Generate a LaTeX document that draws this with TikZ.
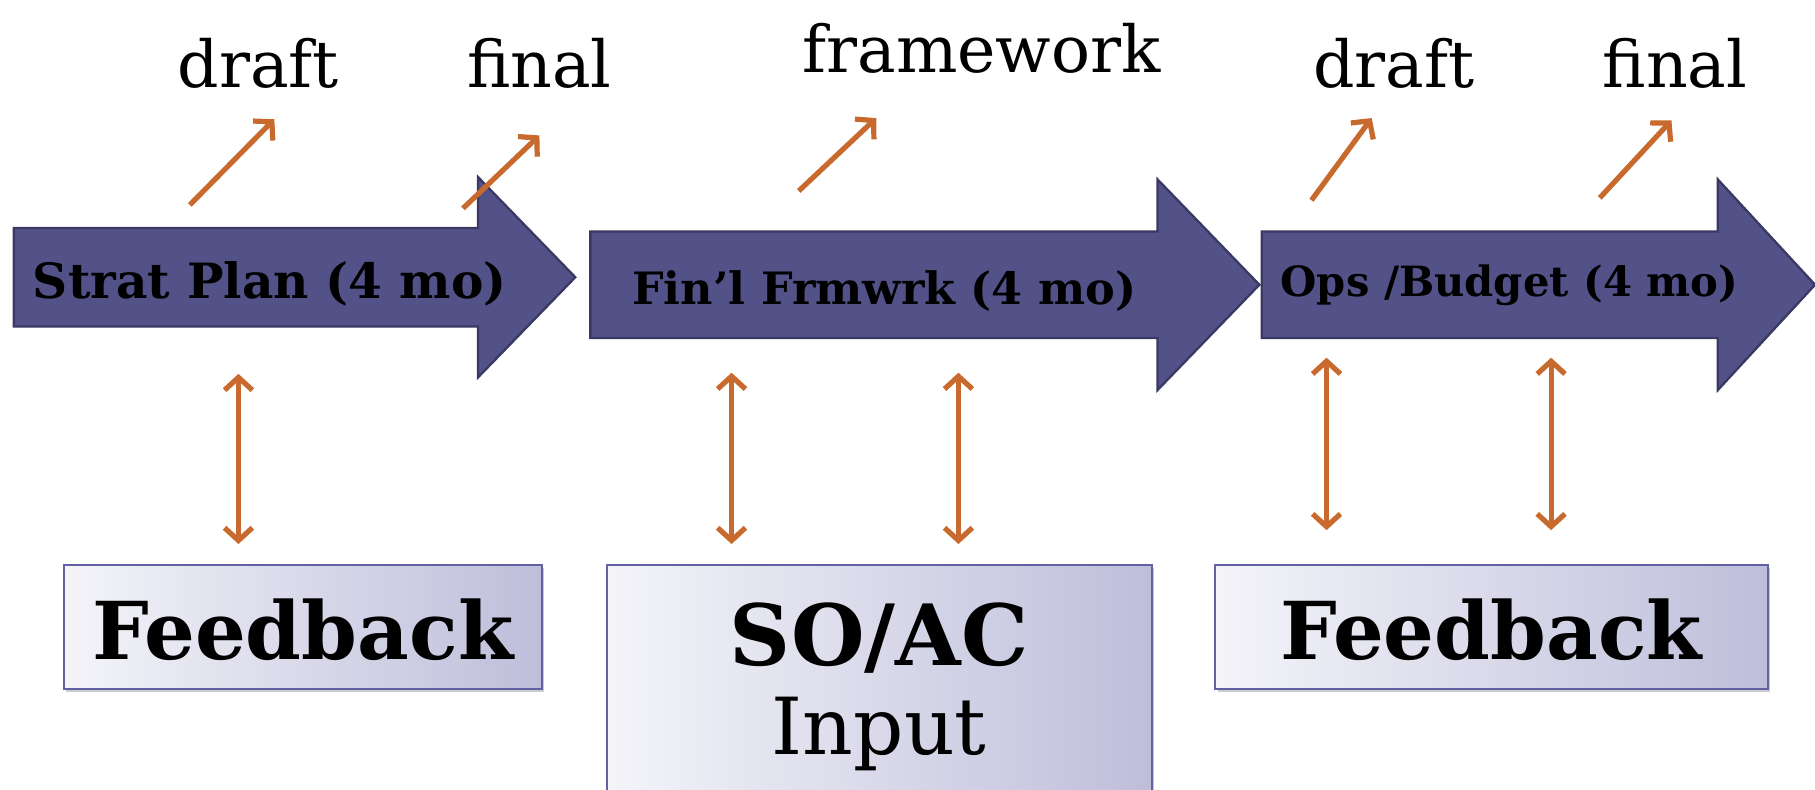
\documentclass[tikz,border=0pt]{standalone}
\usepackage{fontspec}
\setmainfont{DejaVu Serif}
\usetikzlibrary{arrows.meta,shadows}

\definecolor{bandfill}{HTML}{525288}
\definecolor{banddraw}{HTML}{393963}
\definecolor{rust}{HTML}{C8692D}
\definecolor{boxedge}{HTML}{6262A2}
\definecolor{boxleft}{HTML}{F4F4F9}
\definecolor{boxright}{HTML}{BEBEDB}

\tikzset{
  band/.style={fill=bandfill, draw=banddraw, line width=2pt},
  bandtext/.style={font=\fontsize{#1}{40}\selectfont\bfseries, anchor=base},
  note/.style={font=\fontsize{56}{60}\selectfont, anchor=base},
  link/.style={draw=rust, line width=4.5pt, -{Straight Barb[length=11pt,width=24pt]}},
  twoway/.style={draw=rust, line width=4.5pt, {Straight Barb[length=11pt,width=24pt]}-{Straight Barb[length=11pt,width=24pt]}},
  panel/.style={draw=boxedge, line width=1.8pt, left color=boxleft, right color=boxright,
    drop shadow={opacity=0.4, shadow xshift=2pt, shadow yshift=-3pt}},
  panelhead/.style={font=\fontsize{#1}{70}\selectfont\bfseries, anchor=base},
  panelsub/.style={font=\fontsize{68}{70}\selectfont, anchor=base},
}

\begin{document}
\begin{tikzpicture}[x=1pt, y=-1pt]
	\useasboundingbox (0,0) rectangle (1568,682);
	\clip (0,0) rectangle (1568,682);

	% the three phases
	\draw[band] (12,197) -- (413,197) -- (413,153) -- (497,239.5) -- (413,326) -- (413,282) -- (12,282) -- cycle;
	\draw[band] (510,200) -- (1000,200) -- (1000,155) -- (1088,246) -- (1000,337) -- (1000,292) -- (510,292) -- cycle;
	\draw[band] (1090,200) -- (1484,200) -- (1484,155) -- (1568,246) -- (1484,337) -- (1484,292) -- (1090,292) -- cycle;
	\node[bandtext=42] (strat) at (233,258) {Strat Plan (4 mo)};
	\node[bandtext=38.5] (frmwrk) at (764,263) {Fin’l Frmwrk (4 mo)};
	\node[bandtext=36] (ops) at (1304,256) {Ops /Budget (4 mo)};

	% deliverables
	\node[note] (draftA) at (223,76) {draft};
	\node[note] (finalA) at (466,76) {final};
	\node[note] (fwork) at (848,63) {framework};
	\node[note] (draftB) at (1204,76) {draft};
	\node[note] (finalB) at (1447,76) {final};

	\coordinate (dA0) at (164,177);  \coordinate (dA1) at (237,103);
	\coordinate (fA0) at (400,180);  \coordinate (fA1) at (466,117);
	\coordinate (fw0) at (690,165);  \coordinate (fw1) at (757,102);
	\coordinate (dB0) at (1133,173); \coordinate (dB1) at (1185,102);
	\coordinate (fB0) at (1382,171); \coordinate (fB1) at (1444,104);
	\draw[link] (dA0) -- (dA1);
	\draw[link] (fA0) -- (fA1);
	\draw[link] (fw0) -- (fw1);
	\draw[link] (dB0) -- (dB1);
	\draw[link] (fB0) -- (fB1);

	% input boxes
	\node[panel, minimum width=413pt, minimum height=107pt] (fbA) at (261.5,541.5) {};
	\node[panel, minimum width=471pt, minimum height=240pt] (soac) at (759.5,608) {};
	\node[panel, minimum width=477pt, minimum height=107pt] (fbB) at (1288.5,541.5) {};
	\node[panelhead=69] at (261.5,570) {Feedback};
	\node[panelhead=73] at (759.5,575) {SO/AC};
	\node[panelsub] at (759.5,652) {Input};
	\node[panelhead=69] at (1288.5,570) {Feedback};

	\coordinate (vA0) at (206,323);  \coordinate (vA1) at (206,470);
	\coordinate (vB0) at (632,322);  \coordinate (vB1) at (632,470);
	\coordinate (vC0) at (828,322);  \coordinate (vC1) at (828,470);
	\coordinate (vD0) at (1146,309); \coordinate (vD1) at (1146,458);
	\coordinate (vE0) at (1340,309); \coordinate (vE1) at (1340,458);
	\draw[twoway] (vA0) -- (vA1);
	\draw[twoway] (vB0) -- (vB1);
	\draw[twoway] (vC0) -- (vC1);
	\draw[twoway] (vD0) -- (vD1);
	\draw[twoway] (vE0) -- (vE1);
\end{tikzpicture}
\end{document}
